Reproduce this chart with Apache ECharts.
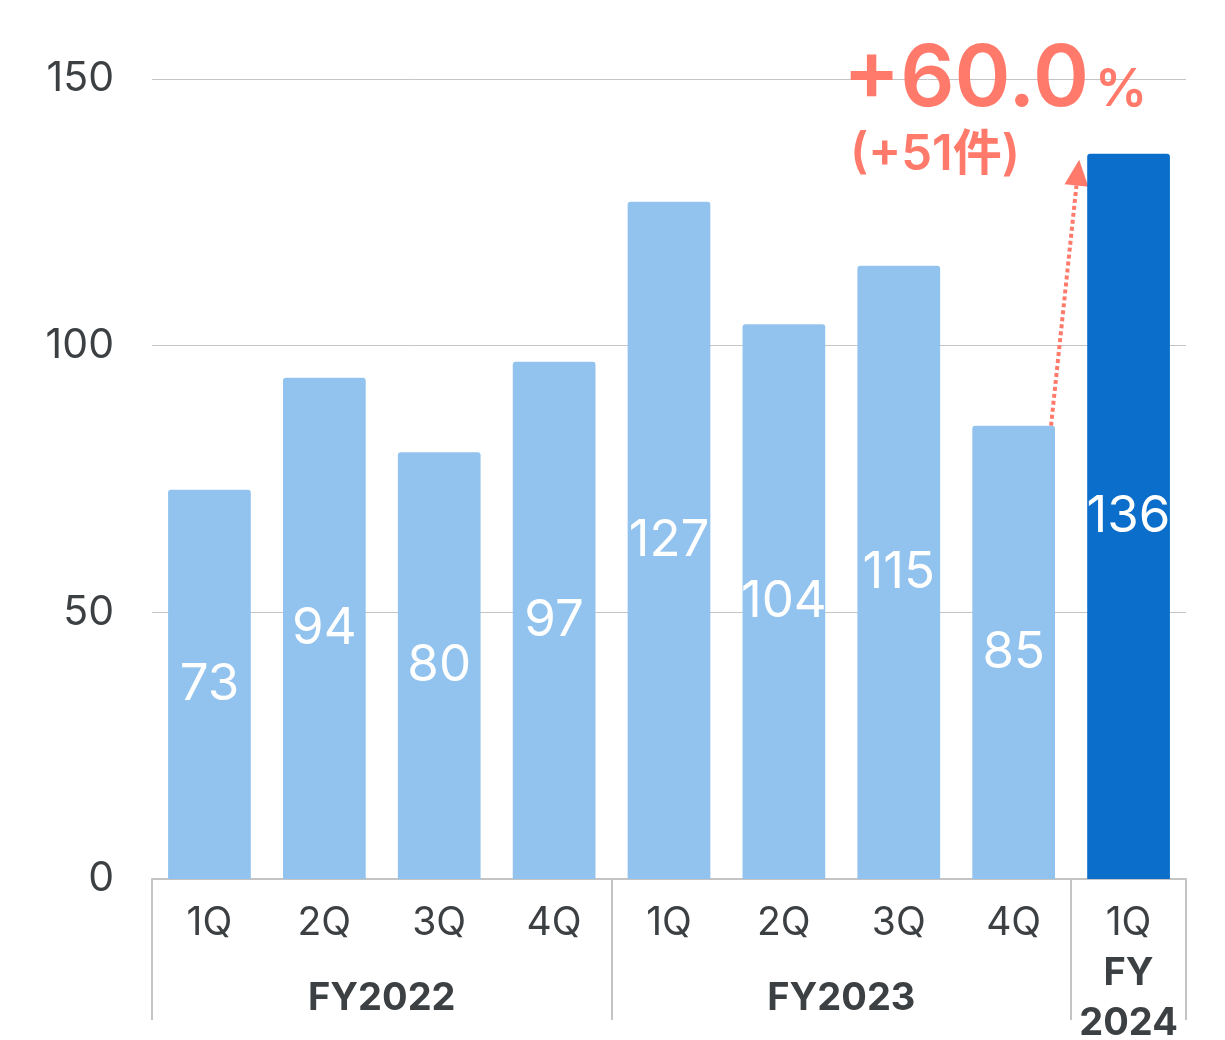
<!DOCTYPE html>
<html>
<head>
<meta charset="utf-8">
<script src="https://cdn.jsdelivr.net/npm/echarts@6/dist/echarts.min.js"></script>
<style>
  html, body { margin: 0; padding: 0; background: #ffffff; }
  #chart { width: 1225px; height: 1040px; }
</style>
</head>
<body>
<div id="chart"></div>
<script>
// Quarterly counts, FY2022 1Q through FY2024 1Q
const quarters = ['1Q', '2Q', '3Q', '4Q', '1Q', '2Q', '3Q', '4Q', '1Q'];
const counts = [73, 94, 80, 97, 127, 104, 115, 85, 136];
// Fiscal-year groups: label, first index, last index
const yearGroups = [
  { name: 'FY2022', from: 0, to: 3 },
  { name: 'FY2023', from: 4, to: 7 },
  { name: 'FY\n2024', from: 8, to: 8 }
];
const yTicks = { min: 0, max: 150, interval: 50 };
const growthText = '+60.0';
const growthCount = '(+51件)';

const FONT = 'Inter, "Noto Sans CJK JP", sans-serif';
const LIGHT = '#92C3EE';
const DARK = '#0A6ECA';
const ACCENT = '#FF7A6B';
const TEXT = '#3C4043';
const LINE = '#C4C4C4';

const chart = echarts.init(document.getElementById('chart'), null, { renderer: 'canvas' });

const groupStarts = yearGroups.map(g => g.from);

chart.setOption({
  animation: false,
  textStyle: { fontFamily: FONT },
  grid: { left: 152, right: 39, top: 79, bottom: 161, containLabel: false },
  xAxis: {
    type: 'category',
    data: quarters,
    boundaryGap: true,
    axisLine: { show: true, lineStyle: { color: LINE, width: 2 } },
    axisTick: {
      show: true,
      interval: (i) => groupStarts.includes(i),
      length: 141,
      lineStyle: { color: LINE, width: 2 }
    },
    axisLabel: { color: TEXT, fontSize: 39, fontFamily: FONT, margin: 25, interval: 0 }
  },
  yAxis: {
    type: 'value',
    min: yTicks.min,
    max: yTicks.max,
    interval: yTicks.interval,
    axisLine: { show: false },
    axisTick: { show: false },
    axisLabel: { color: TEXT, fontSize: 41, fontFamily: FONT, margin: 38 },
    splitLine: { lineStyle: { color: LINE, width: 1 } }
  },
  series: [{
    type: 'bar',
    data: counts.map((v, i) => ({
      value: v,
      itemStyle: { color: i === counts.length - 1 ? DARK : LIGHT }
    })),
    barCategoryGap: '28%',
    itemStyle: { borderRadius: [3, 3, 0, 0] },
    label: {
      show: true,
      position: 'inside',
      color: '#ffffff',
      fontSize: 51,
      fontFamily: FONT,
      fontWeight: 400
    }
  }]
});

// Overlay: fiscal-year group labels and growth annotation, placed via axis scales
function px(idx, val) {
  return chart.convertToPixel({ gridIndex: 0 }, [idx, val]);
}
const band = px(1, 0)[0] - px(0, 0)[0];
const baseY = px(0, 0)[1];

const graphics = [];
yearGroups.forEach(g => {
  const cx = (px(g.from, 0)[0] + px(g.to, 0)[0]) / 2;
  graphics.push({
    type: 'text',
    x: cx,
    y: baseY + 120,
    style: {
      text: g.name,
      fill: TEXT,
      font: 'bold 38px ' + FONT,
      align: 'center',
      verticalAlign: 'middle',
      lineHeight: 50
    }
  });
});

// Dotted arrow from the last FY2023 bar to the FY2024 bar
const last = counts.length - 1;
const p0 = px(last - 1, counts[last - 1]);
const p1 = px(last, counts[last]);
const x0 = p0[0] + band * 0.36 - 4;
const y0 = p0[1];
const x1 = p1[0] - band * 0.36 - 8;
const y1 = p1[1] + 6;
const ang = Math.atan2(y1 - y0, x1 - x0);
const headLen = 26, headW = 12;
const bx = x1 - headLen * Math.cos(ang), by = y1 - headLen * Math.sin(ang);
const nx = -Math.sin(ang), ny = Math.cos(ang);
graphics.push({
  type: 'line',
  shape: { x1: x0, y1: y0, x2: bx, y2: by },
  style: { stroke: ACCENT, lineWidth: 4, lineDash: [4, 3] }
});
graphics.push({
  type: 'polygon',
  shape: { points: [[x1, y1], [bx + nx * headW, by + ny * headW], [bx - nx * headW, by - ny * headW]] },
  style: { fill: ACCENT }
});

graphics.push({
  type: 'text',
  x: 843,
  y: 80,
  style: {
    text: '{a|' + growthText + '}{b|%}',
    rich: {
      a: { font: '600 85px ' + FONT, fill: ACCENT },
      b: { font: '600 52px ' + FONT, fill: ACCENT, padding: [20, 0, 0, 6] }
    },
    verticalAlign: 'middle'
  }
});
graphics.push({
  type: 'text',
  x: 850,
  y: 155,
  style: {
    text: growthCount,
    font: '600 49px ' + FONT,
    fill: ACCENT,
    verticalAlign: 'middle'
  }
});

chart.setOption({ graphic: graphics });
</script>
</body>
</html>
